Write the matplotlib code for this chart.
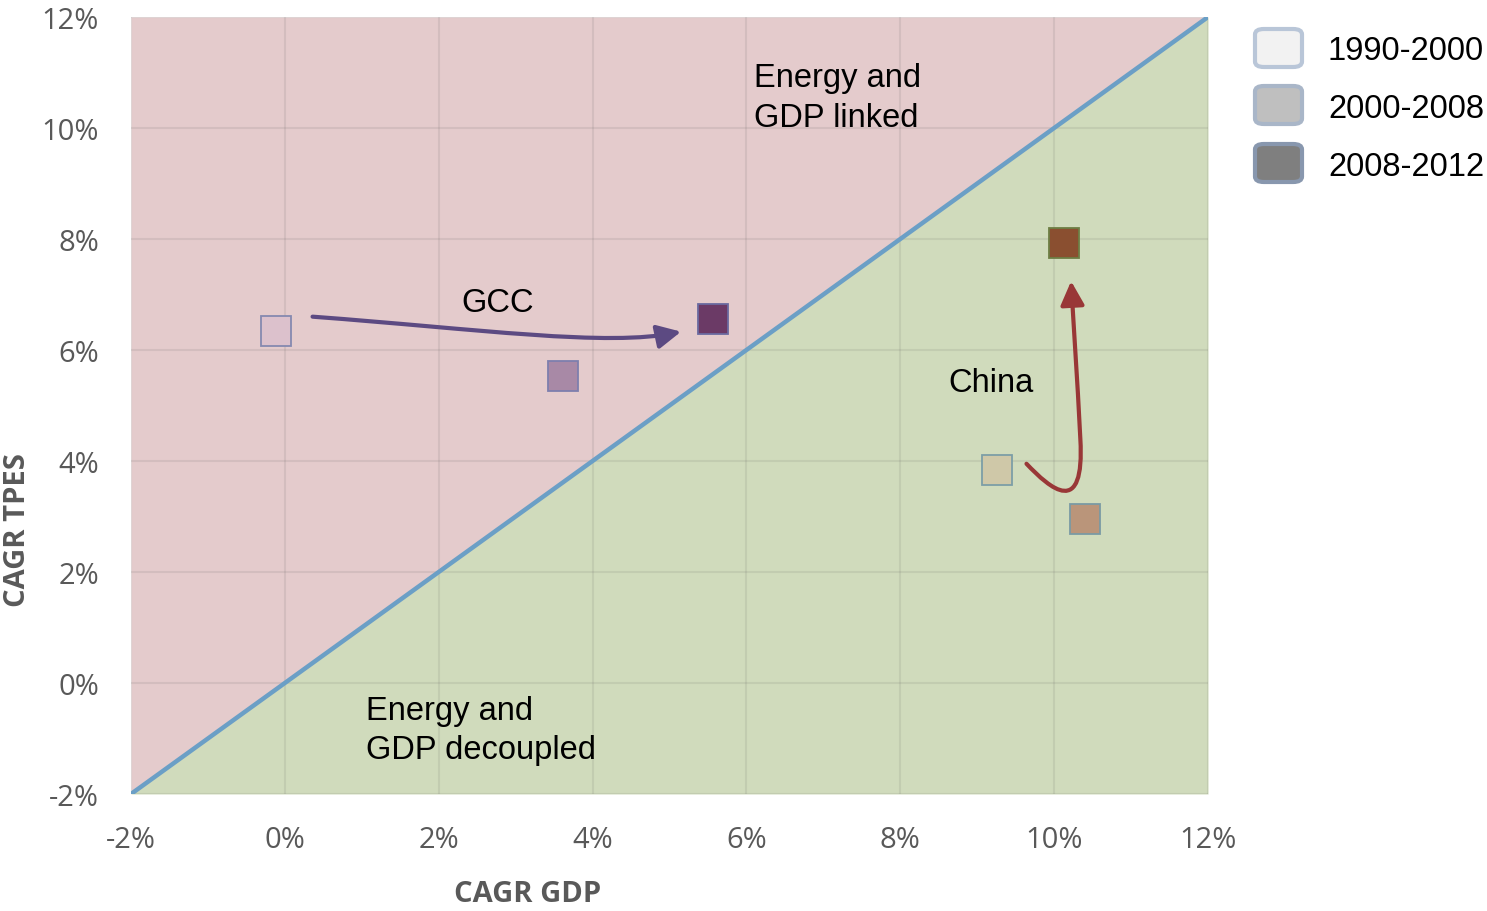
import matplotlib
matplotlib.use("Agg")
import matplotlib.pyplot as plt
from matplotlib.patches import FancyArrowPatch, FancyBboxPatch
from matplotlib.path import Path
from matplotlib.ticker import FuncFormatter
import numpy as np

# GDP / TPES compound annual growth rates (%)
periods = ["1990-2000", "2000-2008", "2008-2012"]
gcc_gdp = [-0.12, 3.61, 5.57]
gcc_tpes = [6.34, 5.53, 6.56]
china_gdp = [9.26, 10.40, 10.13]
china_tpes = [3.84, 2.95, 7.93]

gcc_fill = ["#dcc1cc", "#a889a6", "#6b3a66"]
gcc_edge = ["#8589b0", "#7d7fae", "#6a6aa0"]
china_fill = ["#cfc8a8", "#ba957a", "#8a4f30"]
china_edge = ["#7c9ea6", "#7a9aa4", "#6d7e44"]

legend_fill = ["#f2f2f2", "#bfbfbf", "#7f7f7f"]
legend_edge = ["#b9c6d8", "#a9b6c8", "#8897ae"]

ticks = [-2, 0, 2, 4, 6, 8, 10, 12]

fig = plt.figure(figsize=(14.87, 9.12), dpi=100)
ax = fig.add_axes([0.0881, 0.1283, 0.8124 - 0.0881, 0.9803 - 0.1283])

# Regions above / below the y = x line
xs = np.array([-2, 12])
ax.fill_between(xs, xs, 12, color="#e4cbcc", zorder=0, lw=0)
ax.fill_between(xs, -2, xs, color="#d0dbbc", zorder=0, lw=0)
ax.plot(xs, xs, color="#6b9fc6", lw=3.2, zorder=2, solid_capstyle="butt")

ax.set_xlim(-2, 12)
ax.set_ylim(-2, 12)
ax.set_xticks(ticks)
ax.set_yticks(ticks)
fmt = FuncFormatter(lambda v, p: f"{v:.0f}%")
ax.xaxis.set_major_formatter(fmt)
ax.yaxis.set_major_formatter(fmt)
ax.grid(True, color="#606060", alpha=0.12, lw=1.5, zorder=1)
for s in ax.spines.values():
    s.set_visible(False)
ax.tick_params(length=0, labelsize=21, labelcolor="#595959")
ax.tick_params(axis="x", pad=22)
ax.tick_params(axis="y", pad=23)
for lab in ax.get_xticklabels() + ax.get_yticklabels():
    lab.set_fontfamily("Open Sans")

ax.set_xlabel("CAGR GDP", fontsize=21, fontweight="bold", color="#595959",
              family="Open Sans")
ax.set_ylabel("CAGR TPES", fontsize=21, fontweight="bold", color="#595959",
              family="Open Sans")
ax.xaxis.set_label_coords(0.368, -0.110)
ax.yaxis.set_label_coords(-0.092, 0.341)

for i in range(3):
    ax.plot(gcc_gdp[i], gcc_tpes[i], "s", ms=21, mfc=gcc_fill[i],
            mec=gcc_edge[i], mew=1.3, zorder=4)
    ax.plot(china_gdp[i], china_tpes[i], "s", ms=21, mfc=china_fill[i],
            mec=china_edge[i], mew=1.3, zorder=4)

# Trajectory arrows
arrow_style = "-|>,head_length=0.9,head_width=0.45"
gcc_path = Path([(0.36, 6.6), (2.5, 6.38), (4.2, 6.05), (5.15, 6.33)],
                [Path.MOVETO, Path.CURVE4, Path.CURVE4, Path.CURVE4])
ax.add_patch(FancyArrowPatch(path=gcc_path, arrowstyle=arrow_style,
                             mutation_scale=16, color="#5c4a82", lw=3, zorder=3))
china_path = Path([(9.64, 3.95), (9.95, 3.5), (10.4, 2.95), (10.34, 4.4),
                   (10.3, 5.5), (10.25, 6.5), (10.22, 7.24)],
                  [Path.MOVETO, Path.CURVE4, Path.CURVE4, Path.CURVE4,
                   Path.CURVE4, Path.CURVE4, Path.CURVE4])
ax.add_patch(FancyArrowPatch(path=china_path, arrowstyle=arrow_style,
                             mutation_scale=16, color="#993737", lw=3, zorder=3))

tfont = dict(fontsize=23.5, family="Liberation Sans", color="black", zorder=5)
ax.text(6.1, 10.55, "Energy and\nGDP linked", ha="left", va="center",
        linespacing=1.34, **tfont)
ax.text(2.77, 6.85, "GCC", ha="center", va="center", **tfont)
ax.text(8.62, 5.42, "China", ha="left", va="center", **tfont)
ax.text(1.05, -0.84, "Energy and\nGDP decoupled", ha="left", va="center",
        linespacing=1.34, **tfont)

# Legend drawn in figure pixel space
W, H = 1487, 912
rows_y = [49, 106, 164]
for lab, fc, ec, yc in zip(periods, legend_fill, legend_edge, rows_y):
    box = FancyBboxPatch(((1255) / W, (H - yc - 19) / H), 47 / W, 38 / H,
                         boxstyle="round,pad=0,rounding_size=0.006",
                         transform=fig.transFigure, fc=fc, ec=ec, lw=3)
    fig.patches.append(box)
    fig.text(1328 / W, (H - yc - 3) / H, lab, ha="left", va="center",
             fontsize=23.5, family="Liberation Sans", color="black")

fig.savefig("out.png", dpi=100, facecolor="white")
